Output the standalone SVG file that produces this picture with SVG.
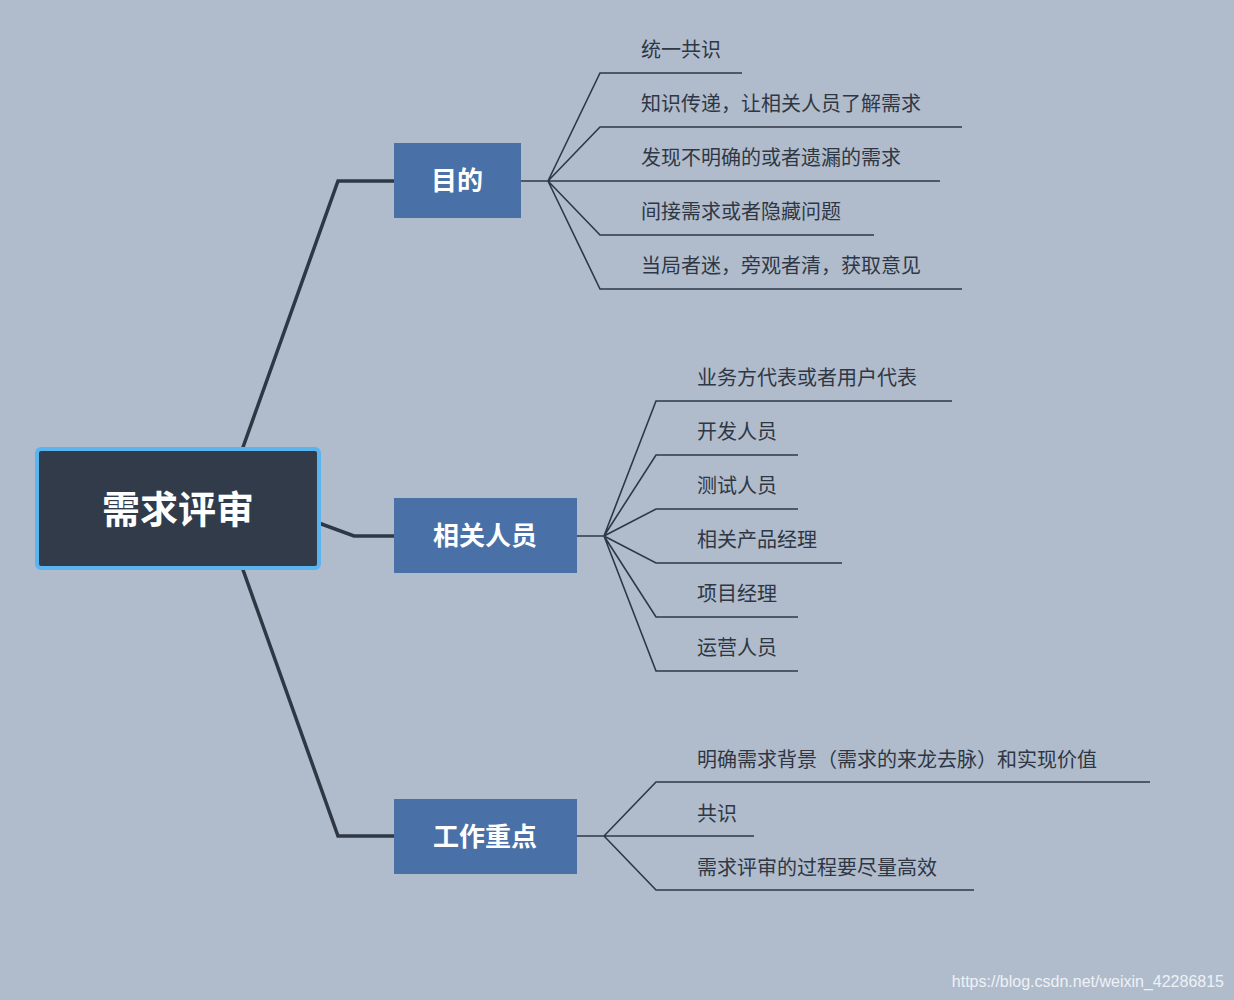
<svg xmlns="http://www.w3.org/2000/svg" width="1234" height="1000" viewBox="0 0 1234 1000">
<style>
.leaf{font-family:"Noto Sans CJK SC","Liberation Sans",sans-serif;font-size:20px;fill:#2f3744}
.br{font-family:"Noto Sans CJK SC","Liberation Sans",sans-serif;font-size:26px;font-weight:bold;fill:#fff;text-anchor:middle}
.thin{fill:none;stroke:#2f3744;stroke-width:1.6}
.thick{fill:none;stroke:#2f3744;stroke-width:3.5}
.bx{fill:#4a70a8}
</style>
<rect width="1234" height="1000" fill="#b0bccc"/>
<g id="connectors">
<path class="thick" d="M242 450 L338 181 L394 181"/>
<path class="thick" d="M316 522 L354 536 L394 536"/>
<path class="thick" d="M242 567 L338 836 L394 836"/>
<path class="thin" d="M521 181 H548 M548 181 L600 73 H742 M548 181 L600 127 H962 M548 181 L600 181 H940 M548 181 L600 235 H874 M548 181 L600 289 H962"/>
<path class="thin" d="M577 536 H604 M604 536 L656 401 H952 M604 536 L656 455 H798 M604 536 L656 509 H798 M604 536 L656 563 H842 M604 536 L656 617 H798 M604 536 L656 671 H798"/>
<path class="thin" d="M577 836 H604 M604 836 L656 782 H1150 M604 836 L656 836 H754 M604 836 L656 890 H974"/>
</g>
<g id="root">
<rect x="37" y="449" width="282" height="119" rx="4" fill="#313b4a" stroke="#5ab4f0" stroke-width="4"/>
<text x="178" y="523" class="br" style="font-size:38px">需求评审</text>
</g>
<g id="n1"><rect class="bx" x="394" y="143" width="127" height="75"/><text class="br" x="457" y="190">目的</text></g>
<g id="n2"><rect class="bx" x="394" y="498" width="183" height="75"/><text class="br" x="485" y="545">相关人员</text></g>
<g id="n3"><rect class="bx" x="394" y="799" width="183" height="75"/><text class="br" x="485" y="846">工作重点</text></g>
<g id="leaves1">
<text class="leaf" x="641" y="57">统一共识</text>
<text class="leaf" x="641" y="111">知识传递，让相关人员了解需求</text>
<text class="leaf" x="641" y="165">发现不明确的或者遗漏的需求</text>
<text class="leaf" x="641" y="219">间接需求或者隐藏问题</text>
<text class="leaf" x="641" y="273">当局者迷，旁观者清，获取意见</text>
</g>
<g id="leaves2">
<text class="leaf" x="697" y="385">业务方代表或者用户代表</text>
<text class="leaf" x="697" y="439">开发人员</text>
<text class="leaf" x="697" y="493">测试人员</text>
<text class="leaf" x="697" y="547">相关产品经理</text>
<text class="leaf" x="697" y="601">项目经理</text>
<text class="leaf" x="697" y="655">运营人员</text>
</g>
<g id="leaves3">
<text class="leaf" x="697" y="767">明确需求背景（需求的来龙去脉）和实现价值</text>
<text class="leaf" x="697" y="821">共识</text>
<text class="leaf" x="697" y="875">需求评审的过程要尽量高效</text>
</g>
<text x="1224" y="987" text-anchor="end" style="font-family:'Liberation Sans',sans-serif;font-size:16px;fill:#eef2f7">https://blog.csdn.net/weixin_42286815</text>
</svg>
